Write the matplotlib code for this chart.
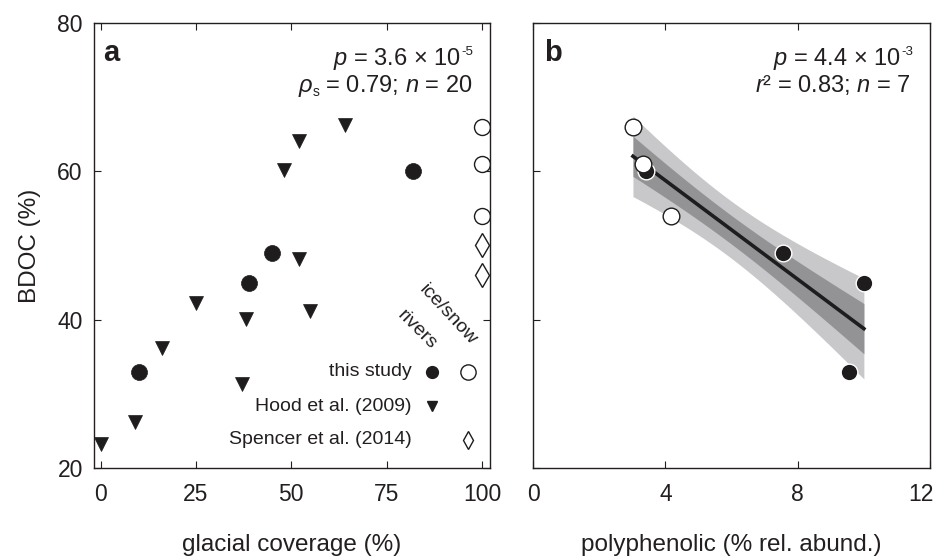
import numpy as np
import matplotlib
matplotlib.use("Agg")
import matplotlib.pyplot as plt
from matplotlib.transforms import ScaledTranslation

# ---------------- data ----------------
# panel a: BDOC vs glacial coverage
study_glacial = [10, 39, 45, 82]
study_bdoc = [33, 45, 49, 60]
ice_glacial = [100, 100, 100]
ice_bdoc = [66, 61, 54]
hood_glacial = [0, 9, 16, 25, 37, 38, 48, 52, 52, 55, 64]
hood_bdoc = [23.3, 26.2, 36.2, 42.2, 31.3, 40.1, 60.2, 64.1, 48.2, 41.2, 66.3]
spencer_glacial = [100, 100]
spencer_bdoc = [50, 46]

# panel b: BDOC vs polyphenolic
study_poly = [9.55, 10.0, 7.55, 3.4]
ice_poly = [3.02, 3.32, 4.18]

xticks_a = [0, 25, 50, 75, 100]
xticks_b = [0, 4, 8, 12]
yticks = [20, 40, 60, 80]

# ---------------- style ----------------
FONT = "Liberation Sans"
plt.rcParams["font.family"] = [FONT, "DejaVu Sans"]
plt.rcParams["mathtext.fontset"] = "custom"
plt.rcParams["mathtext.rm"] = FONT
plt.rcParams["mathtext.it"] = FONT + ":italic"
plt.rcParams["mathtext.bf"] = FONT + ":bold"

TXT = "#231f20"
BLACK = "#1e1c1d"
DPI = 100

fig = plt.figure(figsize=(9.35, 5.56), dpi=DPI)
axa = fig.add_axes([0.1005, 0.1583, 0.4235, 0.8004])
axb = fig.add_axes([0.5701, 0.1583, 0.4246, 0.8004])
renderer = fig.canvas.get_renderer()


def rich_right(ax, x, y, segments):
    """Draw text segments right-aligned at (x, y) in axes coords.
    segments: list of (text, fontsize, raise_px, kern_px) from left to right."""
    shift = 0.0
    for txt, fs, rise, kern in reversed(segments):
        tr = ax.transAxes + ScaledTranslation(-shift / DPI, rise / DPI,
                                              fig.dpi_scale_trans)
        t = ax.text(x, y, txt, transform=tr, fontsize=fs, color=TXT,
                    ha="right", va="baseline")
        bb = t.get_window_extent(renderer)
        shift += bb.width + kern


for ax in (axa, axb):
    for s in ax.spines.values():
        s.set_linewidth(1.0)
        s.set_color(TXT)
    ax.set_ylim(20, 80)
    ax.set_yticks(yticks)

axa.tick_params(axis="both", direction="in", length=5, width=0.8, color=TXT,
                labelsize=16.5, labelcolor=TXT, top=True, right=True)
axa.tick_params(axis="x", pad=11)
axa.tick_params(axis="y", pad=8)
axb.tick_params(axis="both", direction="in", length=5, width=0.8, color=TXT,
                labelsize=16.5, labelcolor=TXT, top=True, right=False,
                labelleft=False)
axb.tick_params(axis="x", pad=11)

# ---------------- panel a ----------------
axa.set_xlim(-1.76, 102.1)
axa.set_xticks(xticks_a)
axa.plot(hood_glacial, hood_bdoc, linestyle="none", marker="v", ms=10,
         mfc=BLACK, mec=BLACK, mew=0.5)
axa.plot(study_glacial, study_bdoc, linestyle="none", marker="o", ms=11.5,
         mfc=BLACK, mec=BLACK, mew=0.5)
axa.plot(ice_glacial, ice_bdoc, linestyle="none", marker="o", ms=11.5,
         mfc="white", mec=BLACK, mew=1.0)
axa.plot(spencer_glacial, spencer_bdoc, linestyle="none", marker="d", ms=12.5,
         mfc="white", mec=BLACK, mew=1.0)

axa.set_xlabel("glacial coverage (%)", fontsize=17.5, color=TXT, labelpad=20)
axa.set_ylabel("BDOC (%)", fontsize=17.5, color=TXT, labelpad=12)

axa.text(0.022, 0.933, "a", transform=axa.transAxes, fontsize=21,
         fontweight="bold", color=TXT, ha="left", va="center")
rich_right(axa, 0.957, 0.906, [(r"$p$ = 3.6 × 10", 17, 0, 0),
                                ("-5", 9.5, 10, 0)])
rich_right(axa, 0.957, 0.845, [(r"$\rho$", 17, 0, 0), ("s", 10, -4, -1),
                                (r" = 0.79; $n$ = 20", 17, 0, 0)])

# custom legend
lx_txt, lx_riv, lx_ice = 0.803, 0.854, 0.944
ly = [0.216, 0.139, 0.063]
labels = ["this study", "Hood et al. (2009)", "Spencer et al. (2014)"]
for y, lab in zip(ly, labels):
    axa.text(lx_txt, y, lab, transform=axa.transAxes, fontsize=14,
             color=TXT, ha="right", va="center")
axa.plot([lx_riv], [ly[0]], transform=axa.transAxes, marker="o", ms=8.5,
         mfc=BLACK, mec=BLACK, linestyle="none", clip_on=False)
axa.plot([lx_ice], [ly[0]], transform=axa.transAxes, marker="o", ms=11,
         mfc="white", mec=BLACK, mew=1.0, linestyle="none", clip_on=False)
axa.plot([lx_riv], [ly[1]], transform=axa.transAxes, marker="v", ms=7.5,
         mfc=BLACK, mec=BLACK, linestyle="none", clip_on=False)
axa.plot([lx_ice], [ly[2]], transform=axa.transAxes, marker="d", ms=8.7,
         mfc="white", mec=BLACK, mew=1.0, linestyle="none", clip_on=False)
axa.text(0.816, 0.310, "rivers", transform=axa.transAxes, fontsize=14,
         color=TXT, rotation=-45, ha="center", va="center",
         rotation_mode="anchor")
axa.text(0.895, 0.344, "ice/snow", transform=axa.transAxes, fontsize=14,
         color=TXT, rotation=-47, ha="center", va="center",
         rotation_mode="anchor")

# ---------------- panel b ----------------
axb.set_xlim(0, 12)
axb.set_xticks(xticks_b)

px = np.array(study_poly + ice_poly, dtype=float)
py = np.array(study_bdoc + ice_bdoc, dtype=float)
n = len(px)
slope, intercept = np.polyfit(px, py, 1)
resid = py - (slope * px + intercept)
s_err = np.sqrt(np.sum(resid ** 2) / (n - 2))
xx = np.linspace(px.min(), px.max(), 200)
yy = slope * xx + intercept
se = s_err * np.sqrt(1.0 / n + (xx - px.mean()) ** 2 / np.sum((px - px.mean()) ** 2))

axb.fill_between(xx, yy - 2.0 * se, yy + 2.0 * se, color="#c8c8ca", lw=0, zorder=1)
axb.fill_between(xx, yy - 1.0 * se, yy + 1.0 * se, color="#939396", lw=0, zorder=2)
axb.plot(xx, yy, color=BLACK, lw=2.6, zorder=3, solid_capstyle="projecting")

axb.plot(study_poly, study_bdoc, linestyle="none", marker="o", ms=12,
         mfc=BLACK, mec="white", mew=1.0, zorder=4)
axb.plot(ice_poly, ice_bdoc, linestyle="none", marker="o", ms=12,
         mfc="white", mec=BLACK, mew=1.0, zorder=5)

axb.set_xlabel("polyphenolic (% rel. abund.)", fontsize=17.5, color=TXT,
               labelpad=20)
axb.text(0.028, 0.933, "b", transform=axb.transAxes, fontsize=21,
         fontweight="bold", color=TXT, ha="left", va="center")
rich_right(axb, 0.957, 0.906, [(r"$p$ = 4.4 × 10", 17, 0, 0),
                                ("-3", 9.5, 10, 0)])
rich_right(axb, 0.952, 0.845, [(r"$r$² = 0.83; $n$ = 7", 17, 0, 0)])

# keep the last x tick label of panel b inside the image
fig.canvas.draw()
last = axb.get_xticklabels()[-1]
last.set_transform(last.get_transform() +
                   ScaledTranslation(-9 / DPI, 0, fig.dpi_scale_trans))

fig.savefig("out.png", dpi=DPI)
